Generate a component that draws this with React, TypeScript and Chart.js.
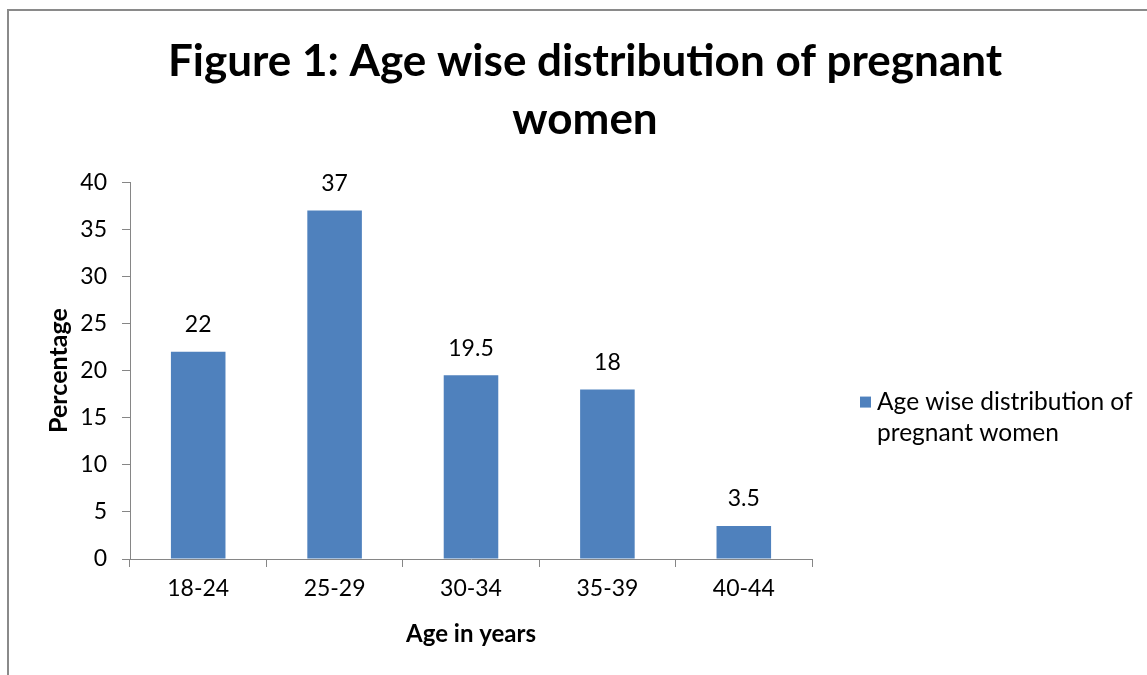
import React, { useEffect, useRef } from "react";
import { Chart, registerables } from "chart.js";

Chart.register(...registerables);

const categories = ["18-24", "25-29", "30-34", "35-39", "40-44"];
const values = [22, 37, 19.5, 18, 3.5];
const seriesLabel = "Age wise distribution of pregnant women";
const titleLines = ["Figure 1: Age wise distribution of pregnant", "women"];
const yTicks = [0, 5, 10, 15, 20, 25, 30, 35, 40];

const FONT = "Lato, 'Open Sans', sans-serif";
const BAR_COLOR = "#4F81BD";
const AXIS_COLOR = "#868686";

const framePlugin = {
  id: "frame",
  beforeDraw(chart: any) {
    const ctx = chart.ctx;
    ctx.save();
    ctx.fillStyle = "#ffffff";
    ctx.fillRect(0, 0, chart.width, chart.height);
    ctx.strokeStyle = "#8a8a8a";
    ctx.lineWidth = 2;
    ctx.strokeRect(8, 10, chart.width + 20, chart.height + 20);
    ctx.restore();
  },
};

const dataLabelPlugin = {
  id: "dataLabels",
  afterDatasetsDraw(chart: any) {
    const ctx = chart.ctx;
    ctx.save();
    ctx.font = `23px ${FONT}`;
    ctx.fillStyle = "#000";
    ctx.textAlign = "center";
    ctx.textBaseline = "middle";
    chart.data.datasets.forEach((ds: any, di: number) => {
      const meta = chart.getDatasetMeta(di);
      meta.data.forEach((el: any, i: number) => {
        ctx.fillText(String(ds.data[i]), el.x, el.y - 27);
      });
    });
    ctx.restore();
  },
};

const legendPlugin = {
  id: "sideLegend",
  afterDraw(chart: any) {
    const ctx = chart.ctx;
    const ds = chart.data.datasets[0];
    const area = chart.chartArea;
    const boxX = area.right + 48;
    const line1Y = (area.top + area.bottom) / 2 + 32;
    ctx.save();
    ctx.font = `24.5px ${FONT}`;
    const words = String(ds.label).split(" ");
    const lines: string[] = [];
    let cur = "";
    const maxW = 270;
    words.forEach((w) => {
      const t = cur ? cur + " " + w : w;
      if (ctx.measureText(t).width > maxW && cur) {
        lines.push(cur);
        cur = w;
      } else cur = t;
    });
    if (cur) lines.push(cur);
    const lh = 31;
    ctx.fillStyle = ds.backgroundColor;
    ctx.fillRect(boxX, line1Y - 6, 11, 11);
    ctx.fillStyle = "#000";
    ctx.textAlign = "left";
    ctx.textBaseline = "middle";
    lines.forEach((l, i) => {
      ctx.fillText(l, boxX + 17, line1Y + i * lh);
    });
    ctx.restore();
  },
};

export default function App() {
  const ref = useRef<HTMLCanvasElement>(null);
  useEffect(() => {
    document.body.style.margin = "0";
    document.body.style.overflow = "hidden";
    const chart = new Chart(ref.current!, {
      type: "bar",
      data: {
        labels: categories,
        datasets: [
          {
            label: seriesLabel,
            data: values,
            backgroundColor: BAR_COLOR,
            barPercentage: 0.4,
            categoryPercentage: 1,
          },
        ],
      },
      plugins: [framePlugin, dataLabelPlugin, legendPlugin],
      options: {
        animation: false,
        responsive: false,
        maintainAspectRatio: false,
        layout: { padding: 0 },
        plugins: {
          legend: { display: false },
          tooltip: { enabled: false },
          title: {
            display: true,
            text: titleLines,
            color: "#000",
            font: { family: FONT, size: 44, weight: "bold", lineHeight: 1.32 },
            padding: { top: 33, bottom: 33 },
          },
        },
        scales: {
          x: {
            afterFit(scale: any) {
              scale.height = 116;
            },
            grid: {
              display: true,
              offset: true,
              drawOnChartArea: false,
              drawTicks: true,
              tickLength: 8,
              color: AXIS_COLOR,
            },
            border: { color: AXIS_COLOR, width: 1 },
            ticks: { color: "#000", font: { family: FONT, size: 23 }, padding: 8 },
            title: {
              display: true,
              text: "Age in years",
              color: "#000",
              font: { family: FONT, size: 24, weight: "bold", lineHeight: 1.2 },
              padding: { top: 0, bottom: 26 },
            },
          },
          y: {
            min: 0,
            max: 40,
            afterFit(scale: any) {
              scale.width = 130;
            },
            afterBuildTicks(scale: any) {
              scale.ticks = yTicks.map((v) => ({ value: v }));
            },
            grid: {
              display: true,
              drawOnChartArea: false,
              drawTicks: true,
              tickLength: 8,
              color: AXIS_COLOR,
            },
            border: { color: AXIS_COLOR, width: 1 },
            ticks: { color: "#000", font: { family: FONT, size: 23 }, padding: 15 },
            title: {
              display: true,
              text: "Percentage",
              color: "#000",
              font: { family: FONT, size: 25, weight: "bold", lineHeight: 1.2 },
              padding: { top: 44, bottom: 0 },
            },
          },
          legendSpace: {
            type: "linear",
            position: "right",
            display: true,
            afterFit(scale: any) {
              scale.width = 358;
            },
            grid: { display: false, drawTicks: false },
            border: { display: false },
            ticks: { display: false },
          },
        },
      },
    });
    return () => chart.destroy();
  }, []);
  return (
    <div style={{ position: "absolute", left: 0, top: 0, width: 1147, height: 675, overflow: "hidden" }}>
      <canvas ref={ref} width={1170} height={675} style={{ display: "block" }} />
    </div>
  );
}
